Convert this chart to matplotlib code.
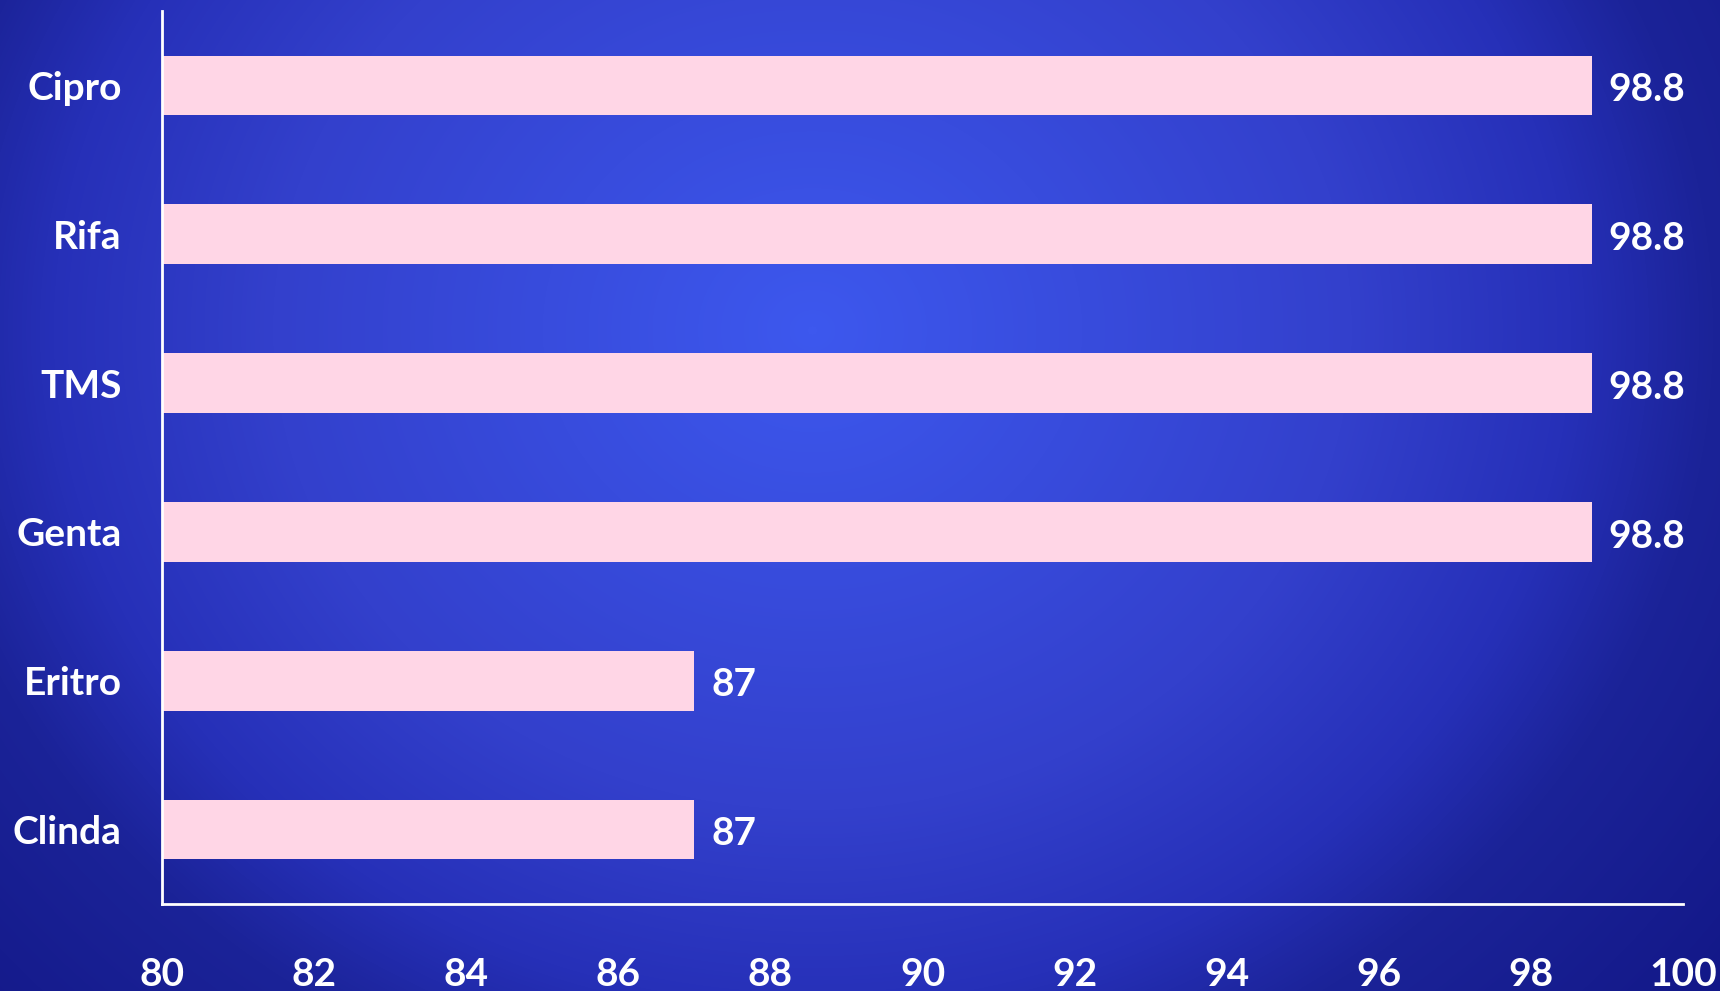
import numpy as np
import matplotlib.pyplot as plt
from matplotlib.colors import LinearSegmentedColormap

drugs = ['Cipro', 'Rifa', 'TMS', 'Genta', 'Eritro', 'Clinda']
pct = [98.8, 98.8, 98.8, 98.8, 87, 87]
pct_lbl = ['98.8', '98.8', '98.8', '98.8', '87', '87']
xticks = [80, 82, 84, 86, 88, 90, 92, 94, 96, 98, 100]

plt.rcParams['font.family'] = ['Lato', 'DejaVu Sans']
plt.rcParams['font.weight'] = 'bold'

fig = plt.figure(figsize=(17.2, 9.91), dpi=100)

# radial gradient background
bg = fig.add_axes([0, 0, 1, 1], zorder=-10)
W, H = 1720, 991
yy, xx = np.mgrid[0:H, 0:W]
d = np.sqrt(((xx - 812) / 900.0) ** 2 + ((yy - 330) / 800.0) ** 2)
cmap = LinearSegmentedColormap.from_list(
    'bgc', [(0, '#3d58ee'), (0.46, '#3340cc'), (0.65, '#2630b8'),
            (0.77, '#1b2398'), (1, '#131888')])
bg.imshow(d, cmap=cmap, vmin=0, vmax=1.3, aspect='auto', interpolation='bilinear')
bg.axis('off')

ax = fig.add_axes([162 / W, 1 - 904 / H, (1683 - 162) / W, (904 - 11) / H])
ax.patch.set_alpha(0)
ypos = np.arange(len(drugs))
ax.barh(ypos, pct, height=0.4, color='#ffd6e6')
ax.set_xlim(80, 100)
ax.set_ylim(len(drugs) - 0.5, -0.5)
ax.set_yticks(ypos)
ax.set_yticklabels(drugs)
ax.set_xticks(xticks)
ax.tick_params(axis='y', length=0, pad=29, labelsize=28, labelcolor='white')
ax.tick_params(axis='x', length=0, pad=38, labelsize=28, labelcolor='white')

for s in ['top', 'right']:
    ax.spines[s].set_visible(False)
for s in ['left', 'bottom']:
    ax.spines[s].set_color('white')
    ax.spines[s].set_linewidth(2)

for y, v, t in zip(ypos, pct, pct_lbl):
    ax.annotate(t, (v, y), xytext=(12, -3), textcoords='offset points',
                va='center', ha='left', color='white', fontsize=28, fontweight='bold')

fig.savefig('out.png', dpi=100)
